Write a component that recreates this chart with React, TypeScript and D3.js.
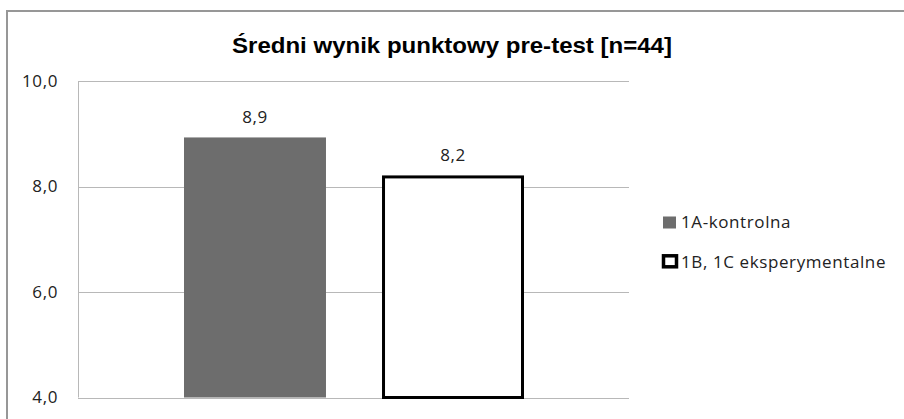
import React from "react";
import * as d3 from "d3";

const title = "Średni wynik punktowy pre-test [n=44]";
const seriesNames = ["1A-kontrolna", "1B, 1C eksperymentalne"];
const seriesValues = [8.93, 8.21];
const valueLabels = ["8,9", "8,2"];
const yTicks = [4, 6, 8, 10];
const yTickLabels = ["4,0", "6,0", "8,0", "10,0"];

const W = 904;
const H = 419;

export default function App() {
  const plotLeft = 78;
  const plotRight = 629;
  const plotTop = 81;
  const plotBottom = 397.5;

  const y = d3.scaleLinear().domain([4, 10]).range([plotBottom, plotTop]);
  const x = d3
    .scaleBand<string>()
    .domain(seriesNames)
    .range([184, 524])
    .paddingInner(0.283)
    .paddingOuter(0);

  const labelFont = "'Open Sans', 'Noto Sans', sans-serif";
  const ls = 0.6;

  return (
    <svg
      width={W}
      height={H}
      style={{ position: "absolute", left: 0, top: 0, background: "#fff" }}
    >
      <rect x={0} y={0} width={W} height={H} fill="#fff" />
      <rect x={7} y={11} width={W + 20} height={H + 20} fill="none" stroke="#979797" strokeWidth={2} />

      <text
        x={452}
        y={53}
        textAnchor="middle"
        fontFamily="'Liberation Sans', Arial, sans-serif"
        fontWeight="bold"
        fontSize={22}
        textLength={440}
        lengthAdjust="spacingAndGlyphs"
        fill="#000"
      >
        {title}
      </text>

      {yTicks.map((t) => (
        <line
          key={t}
          x1={plotLeft}
          x2={plotRight}
          y1={Math.round(y(t)) + 0.5}
          y2={Math.round(y(t)) + 0.5}
          stroke="#b8b8b8"
          strokeWidth={1}
        />
      ))}
      <line x1={plotLeft + 0.5} x2={plotLeft + 0.5} y1={plotTop} y2={plotBottom} stroke="#b8b8b8" strokeWidth={1} />

      {yTicks.map((t, i) => (
        <text
          key={t}
          x={58}
          y={y(t) + 5.7}
          textAnchor="end"
          fontFamily={labelFont}
          fontSize={17}
          letterSpacing={ls}
          fill="#222"
        >
          {yTickLabels[i]}
        </text>
      ))}

      {seriesNames.map((s, i) => {
        const bx = x(s)!;
        const bw = x.bandwidth();
        const top = y(seriesValues[i]);
        if (i === 0) {
          return (
            <rect key={s} x={bx} y={top} width={bw} height={plotBottom - top} fill="#6d6d6d" />
          );
        }
        return (
          <rect
            key={s}
            x={bx + 1.5}
            y={top + 1.5}
            width={bw - 3}
            height={plotBottom - top - 1.5}
            fill="#fff"
            stroke="#000"
            strokeWidth={3}
          />
        );
      })}

      {seriesNames.map((s, i) => (
        <text
          key={s}
          x={x(s)! + x.bandwidth() / 2}
          y={y(seriesValues[i]) - 14}
          textAnchor="middle"
          fontFamily={labelFont}
          fontSize={17}
          letterSpacing={ls}
          fill="#222"
        >
          {valueLabels[i]}
        </text>
      ))}

      {seriesNames.map((s, i) => {
        const base = 228 + i * 40.3;
        return (
          <g key={s}>
            {i === 0 ? (
              <rect x={663} y={base - 11.5} width={13} height={12} fill="#6d6d6d" />
            ) : (
              <rect x={663.5} y={base - 12.5} width={13} height={11} fill="#fff" stroke="#000" strokeWidth={3.5} />
            )}
            <text
              x={681}
              y={base}
              fontFamily={labelFont}
              fontSize={17}
              letterSpacing={ls}
              fill="#222"
            >
              {s}
            </text>
          </g>
        );
      })}
    </svg>
  );
}
